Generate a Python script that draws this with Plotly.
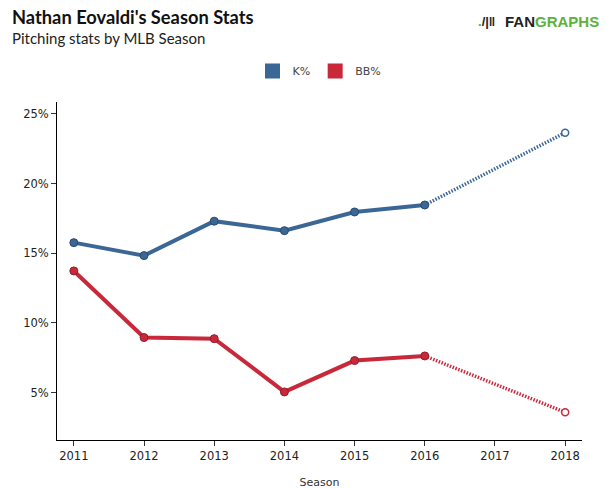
import plotly.graph_objects as go

seasons = [2011, 2012, 2013, 2014, 2015, 2016]
k_pct = [15.76, 14.83, 17.30, 16.62, 17.96, 18.46]
bb_pct = [13.73, 8.95, 8.87, 5.05, 7.30, 7.63]
proj_season = 2018
k_proj = 23.65
bb_proj = 3.59
x_ticks = [2011, 2012, 2013, 2014, 2015, 2016, 2017, 2018]
y_ticks = [5, 10, 15, 20, 25]
y_labels = ["5%", "10%", "15%", "20%", "25%"]

blue = "#3b6796"
blue_dark = "#2a4a6c"
red = "#c8283a"
red_dark = "#8e1e2c"

fig = go.Figure()

for name, vals, proj, col, dark in [("K%", k_pct, k_proj, blue, blue_dark),
                                    ("BB%", bb_pct, bb_proj, red, red_dark)]:
    fig.add_trace(go.Scatter(
        x=[seasons[-1], proj_season], y=[vals[-1], proj],
        mode="lines", line=dict(color=col, width=3.5, dash="1.5px,1.5px"),
        showlegend=False, hoverinfo="skip"))
    fig.add_trace(go.Scatter(
        x=[proj_season], y=[proj], mode="markers",
        marker=dict(size=7, color="white", line=dict(color=col, width=1.5)),
        showlegend=False, hoverinfo="skip"))
    fig.add_trace(go.Scatter(
        x=seasons, y=vals, mode="lines+markers",
        line=dict(color=col, width=4),
        marker=dict(size=8, color=col, line=dict(color=dark, width=1)),
        showlegend=False))
    fig.add_trace(go.Scatter(
        x=[None], y=[None], mode="markers", name=name,
        marker=dict(symbol="square", size=15, color=col)))

fig.update_layout(
    width=611, height=489,
    margin=dict(l=57, r=29, t=102, b=49, autoexpand=False),
    paper_bgcolor="white", plot_bgcolor="white",
    font=dict(family="DejaVu Sans", size=11, color="#333"),
    showlegend=True,
    legend=dict(orientation="h", x=0.5, xanchor="center", y=1.092, yanchor="middle",
                font=dict(size=11, color="#444"), itemwidth=30,
                traceorder="normal"),
    xaxis=dict(range=[2010.76, 2018.24], tickvals=x_ticks, ticktext=[str(v) for v in x_ticks],
               showgrid=False, zeroline=False, showline=True, linecolor="black", linewidth=1,
               ticks="outside", ticklen=5, tickcolor="#333",
               title=dict(text="Season", font=dict(size=11, color="#333"), standoff=26),
               tickfont=dict(size=11.5, color="#222")),
    yaxis=dict(range=[1.6, 25.85], tickvals=y_ticks, ticktext=y_labels,
               showgrid=False, zeroline=False, showline=True, linecolor="black", linewidth=1,
               ticks="outside", ticklen=5, tickcolor="#333",
               tickfont=dict(size=11.5, color="#222")),
)

fig.add_annotation(text="<b>Nathan Eovaldi's Season Stats</b>", xref="paper", yref="paper",
                   x=-0.09, y=1.2515, xanchor="left", yanchor="middle",
                   font=dict(family="Lato", size=18.3, color="#111"), showarrow=False)
fig.add_annotation(text="Pitching stats by MLB Season", xref="paper", yref="paper",
                   x=-0.09, y=1.189, xanchor="left", yanchor="middle",
                   font=dict(family="Lato", size=15, color="#222"), showarrow=False)
fig.add_annotation(text="<b><span style='color:#222'>FAN</span><span style='color:#5cb23a'>GRAPHS</span></b>",
                   xref="paper", yref="paper", x=1.036, y=1.2367, xanchor="right", yanchor="middle",
                   font=dict(family="Liberation Sans", size=15), showarrow=False)
fig.add_annotation(text="<b><span style='color:#5cb23a'>.</span><span style='color:#222'>/|‖</span></b>",
                   xref="paper", yref="paper", x=0.838, y=1.2367, xanchor="right", yanchor="middle",
                   font=dict(family="Liberation Sans", size=13), showarrow=False)

fig.write_html("out.html", config={"displayModeBar": False},
               post_script="document.body.style.margin='0px';")
